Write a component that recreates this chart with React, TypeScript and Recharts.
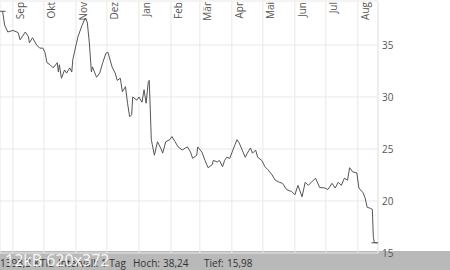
import React from 'react';
import { LineChart, Line, XAxis, YAxis, CartesianGrid } from 'recharts';

// trading day offsets (days from 1 Sep) and closing prices
const days = [
  -10, -8, -5, 0, 5, 7, 12, 15, 16, 19, 23, 26, 29, 31, 33, 36, 39, 43, 44, 45,
  47, 50, 52, 55, 57, 58, 60, 63, 67, 70, 72, 74, 76, 77, 79, 81, 84, 87, 90, 92,
  96, 99, 101, 104, 106, 109, 111, 113, 115, 116, 120, 122, 125, 127, 129, 131, 132, 133, 134, 135,
  137, 140, 144, 145, 148, 152, 154, 157, 160, 164, 167, 169, 172, 174, 178, 179, 183, 186, 189, 193,
  194, 198, 200, 203, 205, 207, 210, 213, 215, 217, 219, 222, 225, 227, 230, 232, 235, 237, 241, 244,
  247, 251, 254, 258, 261, 265, 270, 273, 276, 280, 283, 286, 289, 293, 297, 302, 305, 309, 312, 315,
  318, 321, 324, 326, 329, 333, 335, 339, 341, 343, 346, 348, 349, 350, 353,
];
const prices = [
  38.24, 36.9, 36.25, 36.4, 36.2, 35.5, 36.25, 35.8, 35.2, 35.7, 35.0, 34.7, 34.7, 34.3, 33.3, 33.1, 32.8, 33.3, 32.4, 33.1,
  31.8, 32.6, 32.3, 32.8, 32.4, 33.6, 34.5, 35.8, 36.9, 37.6, 37.2, 35.2, 32.4, 32.9, 32.4, 31.9, 32.3, 33.3, 34.2, 34.3,
  32.9, 32.3, 31.6, 31.8, 30.5, 31.0, 29.4, 28.1, 28.3, 30.0, 29.7, 30.0, 29.5, 30.7, 29.4, 31.4, 31.6, 28.8, 25.9, 25.4,
  24.4, 25.7, 24.9, 24.6, 25.7, 25.9, 26.2, 25.7, 25.2, 24.9, 25.1, 25.2, 24.7, 24.1, 24.4, 25.2, 24.7, 23.9, 23.2, 23.5,
  23.9, 23.75, 23.9, 23.3, 23.9, 24.2, 24.1, 24.9, 25.4, 25.9, 25.6, 24.9, 24.2, 24.6, 25.1, 24.6, 24.9, 24.2, 23.9, 23.3,
  23.0, 22.5, 22.0, 21.8, 21.7, 21.1, 20.9, 20.6, 21.5, 20.4, 21.8, 21.5, 21.8, 22.2, 21.3, 21.25, 21.1, 21.7, 21.25, 21.8,
  21.5, 22.2, 22.0, 23.2, 22.8, 22.7, 21.25, 20.8, 20.3, 19.4, 19.3, 19.2, 16.5, 16.0, 15.98,
];

const monthDays = [0, 30, 61, 91, 122, 153, 181, 212, 242, 273, 303, 334];
const monthLabels = ['Sep', 'Okt', 'Nov', 'Dez', 'Jan', 'Feb', 'Mär', 'Apr', 'Mai', 'Jun', 'Jul', 'Aug'];
const priceTicks = [15, 20, 25, 30, 35];

const data = days.map((d, i) => ({ d, price: prices[i] }));
const hi = Math.max(...prices);
const lo = Math.min(...prices);

const font = '"Open Sans", sans-serif';

const renderMonthTick = (props: any) => {
  const { x, payload, index } = props;
  const label = monthLabels[monthDays.indexOf(payload.value)];
  const tx = x + 11;
  return (
    <text
      key={index}
      x={tx}
      y={2}
      transform={`rotate(-90, ${tx}, 2)`}
      textAnchor="end"
      fontSize={10}
      fontFamily={font}
      fill="#555"
    >
      {label}
    </text>
  );
};

// short flat marks at the high and the low of the period
const ExtremeDot = (props: any) => {
  const { cx, cy, payload, index } = props;
  if (payload.price === hi) {
    return <line key={index} x1={cx - 3} x2={cx + 3} y1={cy} y2={cy} stroke="#555" strokeWidth={1} />;
  }
  if (payload.price === lo) {
    return <line key={index} x1={cx - 6} x2={cx + 1} y1={cy} y2={cy} stroke="#555" strokeWidth={1} />;
  }
  return <g key={index} />;
};

export default function App() {
  return (
    <div style={{ position: 'absolute', left: 0, top: 0, width: 450, height: 270, background: '#fff', overflow: 'hidden' }}>
      <div style={{ position: 'absolute', left: 0, top: 251, width: 450, height: 19, background: '#b9b9b9' }} />
      <div
        style={{
          position: 'absolute',
          left: 0,
          top: 256,
          width: 450,
          fontFamily: font,
          fontSize: 10,
          color: '#333',
          lineHeight: '14px',
          whiteSpace: 'nowrap',
        }}
      >
        <span style={{ position: 'absolute', left: 0 }}>1393,3 KTIL</span>
        <span style={{ position: 'absolute', left: 58 }}>Intervall: 1 Tag</span>
        <span style={{ position: 'absolute', left: 133 }}>Hoch:</span>
        <span style={{ position: 'absolute', left: 163 }}>38,24</span>
        <span style={{ position: 'absolute', left: 204 }}>Tief:</span>
        <span style={{ position: 'absolute', left: 227 }}>15,98</span>
      </div>
      <div
        style={{
          position: 'absolute',
          left: 5,
          top: 250,
          fontFamily: font,
          fontSize: 16,
          color: '#fff',
          opacity: 0.9,
          whiteSpace: 'nowrap',
          lineHeight: '20px',
        }}
      >
        12kB 620x372
      </div>
      <div style={{ position: 'absolute', left: 0, top: 0 }}>
        <LineChart width={450} height={270} data={data} margin={{ top: 0, right: 0, left: 0, bottom: 17 }}>
          <CartesianGrid stroke="#e8e8e8" strokeWidth={1} />
          <XAxis
            dataKey="d"
            type="number"
            orientation="top"
            height={1}
            domain={[-12.5, 353.5]}
            ticks={monthDays}
            axisLine={false}
            tickLine={false}
            tick={renderMonthTick}
            interval={0}
            allowDataOverflow
          />
          <YAxis
            orientation="right"
            width={72}
            domain={[15, 39.23]}
            ticks={priceTicks}
            allowDataOverflow
            axisLine={{ stroke: '#e8e8e8' }}
            tickLine={false}
            tickSize={0}
            tickMargin={4}
            tick={{ fontSize: 10, fontFamily: font, fill: '#555' }}
          />
          <Line
            type="linear"
            dataKey="price"
            stroke="#555"
            strokeWidth={1}
            dot={<ExtremeDot />}
            activeDot={false}
            isAnimationActive={false}
          />
        </LineChart>
      </div>
    </div>
  );
}
